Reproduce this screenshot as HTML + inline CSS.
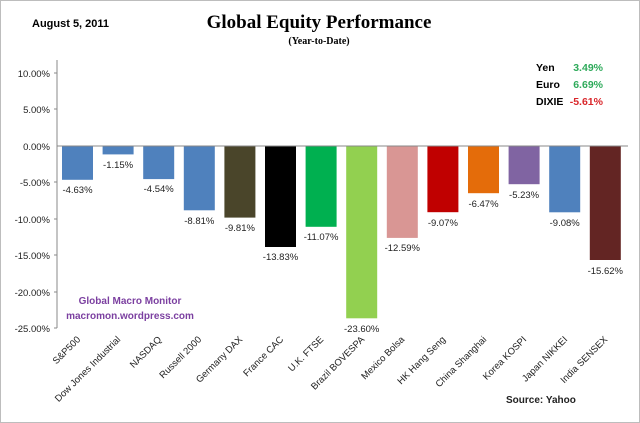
<!DOCTYPE html>
<html><head><meta charset="utf-8"><style>
html,body{margin:0;padding:0;background:#fff}
svg{display:block}
text{font-family:"Liberation Sans",sans-serif}
</style></head><body>
<svg width="640" height="423" viewBox="0 0 640 423" xmlns="http://www.w3.org/2000/svg">
<rect x="0.5" y="0.5" width="639" height="422" fill="#fff" stroke="#bdbdbd"/>
<text x="32" y="27" font-size="11" font-weight="bold">August 5,  2011</text>
<text x="319" y="28" font-size="19" font-weight="bold" text-anchor="middle" style="font-family:'Liberation Serif',serif">Global Equity Performance</text>
<text x="319" y="44" font-size="10" font-weight="bold" text-anchor="middle" style="font-family:'Liberation Serif',serif">(Year-to-Date)</text>
<g font-size="10.5" font-weight="bold">
<text x="536" y="71">Yen</text><text x="603" y="71" fill="#2eaa5a" text-anchor="end">3.49%</text>
<text x="536" y="88">Euro</text><text x="603" y="88" fill="#2eaa5a" text-anchor="end">6.69%</text>
<text x="536" y="105">DIXIE</text><text x="603" y="105" fill="#d9262a" text-anchor="end">-5.61%</text>
</g>
<g font-size="9.5" fill="#222" text-anchor="end">
<text x="50" y="77">10.00%</text>
<text x="50" y="113">5.00%</text>
<text x="50" y="150">0.00%</text>
<text x="50" y="186">-5.00%</text>
<text x="50" y="223">-10.00%</text>
<text x="50" y="259">-15.00%</text>
<text x="50" y="296">-20.00%</text>
<text x="50" y="332">-25.00%</text>
</g>
<line x1="57" y1="60" x2="57" y2="328" stroke="#888"/>
<g stroke="#888"><line x1="54" y1="73" x2="57" y2="73"/><line x1="54" y1="109" x2="57" y2="109"/><line x1="54" y1="182" x2="57" y2="182"/><line x1="54" y1="219" x2="57" y2="219"/><line x1="54" y1="255" x2="57" y2="255"/><line x1="54" y1="292" x2="57" y2="292"/><line x1="54" y1="328" x2="57" y2="328"/></g>
<g>
<rect x="62" y="146" width="31" height="33.8" fill="#4f81bd"/>
<rect x="102.6" y="146" width="31" height="8.4" fill="#4f81bd"/>
<rect x="143.2" y="146" width="31" height="33.1" fill="#4f81bd"/>
<rect x="183.8" y="146" width="31" height="64.3" fill="#4f81bd"/>
<rect x="224.4" y="146" width="31" height="71.6" fill="#4a452a"/>
<rect x="265" y="146" width="31" height="101" fill="#000"/>
<rect x="305.6" y="146" width="31" height="80.8" fill="#00b050"/>
<rect x="346.2" y="146" width="31" height="172.3" fill="#92d050"/>
<rect x="386.8" y="146" width="31" height="91.9" fill="#d99694"/>
<rect x="427.4" y="146" width="31" height="66.2" fill="#c00000"/>
<rect x="468" y="146" width="31" height="47.2" fill="#e46c0a"/>
<rect x="508.6" y="146" width="31" height="38.2" fill="#8064a2"/>
<rect x="549.2" y="146" width="31" height="66.3" fill="#4f81bd"/>
<rect x="589.8" y="146" width="31" height="114" fill="#632523"/>
</g>
<line x1="57" y1="146" x2="628" y2="146" stroke="#888"/>
<g font-size="9.5" fill="#222" text-anchor="middle">
<text x="77.5" y="193">-4.63%</text>
<text x="118.1" y="168">-1.15%</text>
<text x="158.7" y="192">-4.54%</text>
<text x="199.3" y="224">-8.81%</text>
<text x="239.9" y="231">-9.81%</text>
<text x="280.5" y="260">-13.83%</text>
<text x="321.1" y="240">-11.07%</text>
<text x="361.7" y="332">-23.60%</text>
<text x="402.3" y="251">-12.59%</text>
<text x="442.9" y="226">-9.07%</text>
<text x="483.5" y="207">-6.47%</text>
<text x="524.1" y="198">-5.23%</text>
<text x="564.7" y="226">-9.08%</text>
<text x="605.3" y="274">-15.62%</text>
</g>
<g font-size="10" fill="#7b3fa0" font-weight="bold" text-anchor="middle">
<text x="130" y="304">Global Macro Monitor</text>
<text x="130" y="319">macromon.wordpress.com</text>
</g>
<g font-size="9.5" fill="#222" text-anchor="end">
<text transform="translate(81,340) rotate(-45)">S&amp;P500</text>
<text transform="translate(121,340) rotate(-45)">Dow Jones Industrial</text>
<text transform="translate(162,340) rotate(-45)">NASDAQ</text>
<text transform="translate(202,340) rotate(-45)">Russell 2000</text>
<text transform="translate(243,340) rotate(-45)">Germany DAX</text>
<text transform="translate(284,340) rotate(-45)">France CAC</text>
<text transform="translate(324,340) rotate(-45)">U.K. FTSE</text>
<text transform="translate(365,340) rotate(-45)">Brazil BOVESPA</text>
<text transform="translate(405,340) rotate(-45)">Mexico Bolsa</text>
<text transform="translate(446,340) rotate(-45)">HK Hang Seng</text>
<text transform="translate(487,340) rotate(-45)">China Shanghai</text>
<text transform="translate(527,340) rotate(-45)">Korea KOSPI</text>
<text transform="translate(568,340) rotate(-45)">Japan NIKKEI</text>
<text transform="translate(608,340) rotate(-45)">India SENSEX</text>
</g>
<text x="506" y="403" font-size="10" font-weight="bold" fill="#222">Source:  Yahoo</text>
</svg>
</body></html>
